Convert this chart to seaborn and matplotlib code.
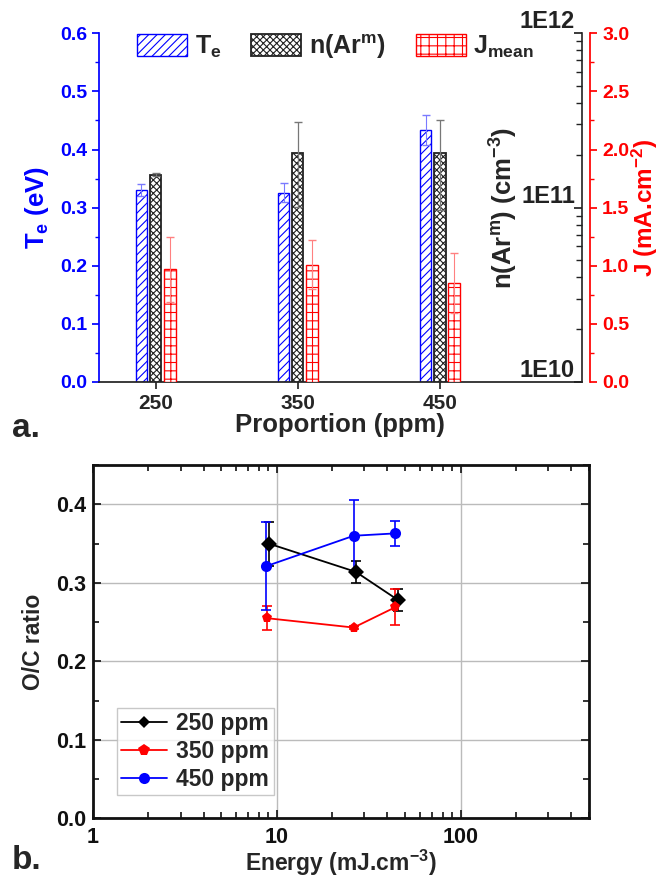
"""
Plasma parameters vs. proportion (a) and O/C ratio vs. energy (b).
"""
import numpy as np
import pandas as pd
import matplotlib
matplotlib.use("Agg")
import matplotlib.pyplot as plt
import matplotlib.ticker as mticker
import seaborn as sns

# ---- data, panel a ----
proportion = [250, 350, 450]
te_values = [0.330, 0.326, 0.434]
te_errors = [0.010, 0.016, 0.026]
narm_values = [1.54e11, 2.05e11, 2.07e11]
narm_errors = [0.03e11, 1.04e11, 1.10e11]
j_values = [0.97, 1.01, 0.85]
j_errors = [0.28, 0.21, 0.26]

# ---- data, panel b ----
energy_250 = [9.05, 26.9, 45.7]
ratio_250 = [0.350, 0.314, 0.278]
err_250 = [0.028, 0.014, 0.014]
energy_350 = [8.8, 26.2, 44.2]
ratio_350 = [0.255, 0.243, 0.269]
err_350 = [0.015, 0.002, 0.023]
energy_450 = [8.7, 26.2, 44.0]
ratio_450 = [0.321, 0.360, 0.363]
err_450 = [0.056, 0.045, 0.016]
series_names = ["250 ppm", "350 ppm", "450 ppm"]


def main():
    sns.set_theme(style="white")
    plt.rcParams["font.family"] = ["Liberation Sans", "DejaVu Sans"]
    plt.rcParams["font.weight"] = "bold"
    plt.rcParams["mathtext.fontset"] = "custom"
    plt.rcParams["mathtext.rm"] = "Liberation Sans:bold"
    plt.rcParams["mathtext.it"] = "Liberation Sans:bold"
    plt.rcParams["mathtext.bf"] = "Liberation Sans:bold"
    plt.rcParams["mathtext.default"] = "regular"
    plt.rcParams["hatch.linewidth"] = 0.8

    fig = plt.figure(figsize=(6.59, 8.76), dpi=100)
    label_a = 18.5
    label_b = 16.5

    # ================= panel a =================
    ax1 = fig.add_axes([0.150, 0.564, 0.733, 0.398])
    ax2 = ax1.twinx()
    ax3 = ax1.twinx()
    x = np.array(proportion, dtype=float)
    w = 8

    b1 = ax1.bar(x - 10, te_values, width=w, facecolor="white", edgecolor="blue",
                 hatch="////", linewidth=1.0, zorder=2)
    ax1.errorbar(x - 10, te_values, yerr=te_errors, fmt="none", ecolor="#7a7aff",
                 elinewidth=0.8, capsize=3, zorder=3)
    b2 = ax2.bar(x, np.array(narm_values) - 1e10, bottom=1e10, width=w,
                 facecolor="white", edgecolor="#222222", hatch="xxxxx",
                 linewidth=1.3, zorder=2)
    ax2.errorbar(x, narm_values, yerr=narm_errors, fmt="none", ecolor="#777777",
                 elinewidth=0.9, capsize=3, zorder=3)
    b3 = ax3.bar(x + 10, j_values, width=w, facecolor="white", edgecolor="red",
                 hatch="++", linewidth=1.0, zorder=2)
    ax3.errorbar(x + 10, j_values, yerr=j_errors, fmt="none", ecolor="#ff8080",
                 elinewidth=0.8, capsize=3, zorder=3)

    ax1.set_xlim(210, 550)
    ax1.set_ylim(0, 0.6)
    ax1.set_xticks(proportion)
    ax1.set_xticklabels([str(p) for p in proportion], fontsize=15, fontweight="bold")
    ax1.yaxis.set_major_locator(mticker.MultipleLocator(0.1))
    ax1.yaxis.set_minor_locator(mticker.MultipleLocator(0.05))
    ax1.yaxis.set_major_formatter(mticker.FormatStrFormatter("%.1f"))
    ax1.tick_params(axis="y", which="both", direction="out", colors="blue",
                    labelsize=14, left=True)
    ax1.tick_params(axis="y", which="major", length=5)
    ax1.tick_params(axis="y", which="minor", length=3)
    ax1.tick_params(axis="x", direction="out", length=5, bottom=True, pad=4)
    for lab in ax1.get_yticklabels():
        lab.set_fontweight("bold")
    ax1.spines["top"].set_visible(False)
    ax1.spines["right"].set_visible(False)
    ax1.spines["left"].set_color("blue")
    ax1.spines["bottom"].set_color("#222222")
    ax1.set_ylabel("T$_{e}$ (eV)", color="blue", fontsize=label_a, fontweight="bold")
    ax1.yaxis.set_label_coords(-0.100, 0.5)
    ax1.set_xlabel("Proportion (ppm)", fontsize=label_a, fontweight="bold", labelpad=0)

    ax2.set_yscale("log")
    ax2.set_ylim(1e10, 1e12)
    ax2.set_yticks([1e10, 1e11, 1e12])
    ax2.set_yticklabels(["1E10", "1E11", "1E12"], fontsize=17, fontweight="bold",
                        va="bottom")
    ax2.yaxis.set_minor_locator(mticker.LogLocator(base=10, subs=np.arange(2, 10)))
    ax2.yaxis.set_minor_formatter(mticker.NullFormatter())
    ax2.tick_params(axis="y", which="both", direction="in", pad=-5, right=True,
                    labelright=True, colors="#222222")
    ax2.tick_params(axis="y", which="major", length=6)
    ax2.tick_params(axis="y", which="minor", length=4)
    for lab in ax2.get_yticklabels():
        lab.set_horizontalalignment("right")
    for side in ["top", "left", "bottom"]:
        ax2.spines[side].set_visible(False)
    ax2.spines["right"].set_color("#222222")
    ax2.spines["right"].set_linewidth(1.2)
    ax2.set_ylabel("n(Ar$^{m}$) (cm$^{-3}$)", fontsize=label_a, fontweight="bold")
    ax2.yaxis.set_label_coords(0.805, 0.5)

    ax3.set_ylim(0, 3.0)
    ax3.spines["right"].set_position(("outward", 6))
    ax3.yaxis.set_major_locator(mticker.MultipleLocator(0.5))
    ax3.yaxis.set_minor_locator(mticker.MultipleLocator(0.25))
    ax3.yaxis.set_major_formatter(mticker.FormatStrFormatter("%.1f"))
    ax3.tick_params(axis="y", which="both", direction="out", colors="red",
                    labelsize=14, right=True)
    ax3.tick_params(axis="y", which="major", length=5)
    ax3.tick_params(axis="y", which="minor", length=3)
    for lab in ax3.get_yticklabels():
        lab.set_fontweight("bold")
    for side in ["top", "left", "bottom"]:
        ax3.spines[side].set_visible(False)
    ax3.spines["right"].set_color("red")
    ax3.set_ylabel("J (mA.cm$^{-2}$)", color="red", fontsize=17.5, fontweight="bold")
    ax3.yaxis.set_label_coords(1.1, 0.5)

    ax1.grid(False)
    ax2.grid(False)
    ax3.grid(False)

    leg = ax1.legend([b1, b2, b3], ["T$_{e}$", "n(Ar$^{m}$)", "J$_{mean}$"],
                     ncol=3, loc="center", bbox_to_anchor=(0.49, 0.962),
                     frameon=False, fontsize=18, handlelength=2.0,
                     handleheight=1.0, columnspacing=1.2, handletextpad=0.3)
    for t in leg.get_texts():
        t.set_fontweight("bold")

    fig.text(0.018, 0.511, "a.", fontsize=24, fontweight="bold", va="center")

    # ================= panel b =================
    ax4 = fig.add_axes([0.141, 0.066, 0.753, 0.403])
    oc_df = pd.DataFrame({
        "energy": energy_250 + energy_350 + energy_450,
        "ratio": ratio_250 + ratio_350 + ratio_450,
        "series": [series_names[0]] * 3 + [series_names[1]] * 3 + [series_names[2]] * 3,
    })
    palette = {"250 ppm": "black", "350 ppm": "red", "450 ppm": "blue"}
    markers = {"250 ppm": "D", "350 ppm": "p", "450 ppm": "o"}
    sizes = {"250 ppm": 6.5, "350 ppm": 8.5, "450 ppm": 8}
    ax4.set_xscale("log")
    for name, en, ra, er in [(series_names[0], energy_250, ratio_250, err_250),
                             (series_names[1], energy_350, ratio_350, err_350),
                             (series_names[2], energy_450, ratio_450, err_450)]:
        ax4.errorbar(en, ra, yerr=er, fmt="none", ecolor=palette[name],
                     elinewidth=1.2, capsize=3.5, capthick=1.2, zorder=3)
    sns.lineplot(data=oc_df, x="energy", y="ratio", hue="series", style="series",
                 palette=palette, markers=markers, dashes=False, markersize=8,
                 markeredgewidth=0, linewidth=1.3, ax=ax4, zorder=4,
                 sort=False, estimator=None)
    for line in ax4.get_lines():
        lab = line.get_label()
        if lab in sizes:
            line.set_markersize(sizes[lab])

    ax4.set_xlim(1, 500)
    ax4.set_ylim(0, 0.45)
    ax4.xaxis.set_major_locator(mticker.LogLocator(base=10))
    ax4.xaxis.set_minor_locator(mticker.LogLocator(base=10, subs=np.arange(2, 10)))
    ax4.xaxis.set_major_formatter(mticker.FuncFormatter(lambda v, p: f"{v:g}"))
    ax4.xaxis.set_minor_formatter(mticker.NullFormatter())
    ax4.yaxis.set_major_locator(mticker.MultipleLocator(0.1))
    ax4.yaxis.set_minor_locator(mticker.MultipleLocator(0.05))
    ax4.yaxis.set_major_formatter(mticker.FormatStrFormatter("%.1f"))
    ax4.tick_params(which="both", direction="in", top=True, right=True,
                    bottom=True, left=True, labelsize=15.5, colors="#111111")
    ax4.tick_params(which="major", length=6, width=1.2)
    ax4.tick_params(which="minor", length=4, width=1.2)
    ax4.tick_params(axis="x", pad=6)
    ax4.tick_params(axis="y", pad=5)
    for lab in ax4.get_xticklabels() + ax4.get_yticklabels():
        lab.set_fontweight("bold")
    for side in ax4.spines.values():
        side.set_color("#111111")
        side.set_linewidth(2.0)
    ax4.grid(True, which="major", color="#bbbbbb", linewidth=1.0)
    ax4.set_xlabel("Energy (mJ.cm$^{-3}$)", fontsize=label_b, fontweight="bold",
                   labelpad=0)
    ax4.set_ylabel("O/C ratio", fontsize=label_b, fontweight="bold")
    ax4.yaxis.set_label_coords(-0.097, 0.5)

    leg2 = ax4.legend(loc="lower left", bbox_to_anchor=(0.048, 0.065),
                      fontsize=16.5, frameon=True, fancybox=False, edgecolor="#bbbbbb",
                      handlelength=2.0, borderpad=0.2, labelspacing=0.2,
                      handletextpad=0.4, borderaxespad=0)
    leg2.get_frame().set_linewidth(1.0)
    for t in leg2.get_texts():
        t.set_fontweight("bold")

    fig.text(0.018, 0.018, "b.", fontsize=24, fontweight="bold", va="center")

    fig.savefig("out.png", dpi=100, facecolor="white")


if __name__ == "__main__":
    main()
